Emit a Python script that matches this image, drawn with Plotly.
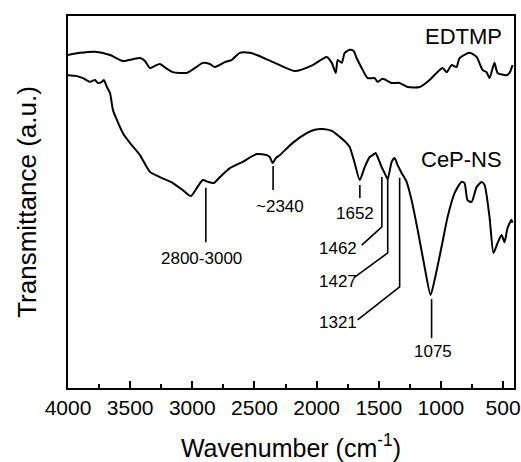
import plotly.graph_objects as go

# ---- data (wavenumber in cm^-1, transmittance in a.u.) ----
edtmp_wn = [4000, 3904, 3783, 3662, 3558, 3478, 3421, 3381, 3341, 3301, 3261, 3212, 3156, 3100,
            3044, 2979, 2915, 2859, 2819, 2738, 2682, 2618, 2537, 2481, 2336, 2176, 2031, 1919,
            1878, 1846, 1830, 1798, 1774, 1734, 1702, 1678, 1629, 1589, 1533, 1509, 1469, 1396,
            1332, 1268, 1171, 1091, 1035, 986, 954, 914, 874, 850, 769, 713, 665, 633, 609, 569,
            544, 472, 448, 424]
edtmp_t = [89.5, 90.1, 90.4, 89.5, 87.9, 88.4, 88.7, 87.9, 86.0, 86.6, 87.1, 86.0, 84.9, 84.7,
           84.7, 86.0, 87.4, 87.1, 86.3, 87.6, 88.2, 90.1, 90.1, 89.5, 87.4, 85.2, 86.8, 89.0,
           87.4, 84.7, 88.2, 87.4, 90.1, 90.9, 90.6, 88.7, 85.5, 83.3, 83.3, 82.3, 83.1, 82.0,
           82.0, 80.9, 80.9, 82.8, 84.7, 86.0, 84.9, 86.8, 86.3, 88.7, 90.1, 89.0, 85.5, 84.9,
           83.3, 87.4, 84.7, 84.1, 84.7, 86.8]

cep_wn = [4000, 3936, 3879, 3823, 3783, 3759, 3727, 3711, 3687, 3662, 3638, 3606, 3558, 3502,
          3421, 3341, 3261, 3156, 3076, 3012, 2963, 2915, 2875, 2827, 2778, 2698, 2594, 2481,
          2401, 2377, 2353, 2328, 2296, 2192, 2079, 2015, 1951, 1878, 1814, 1766, 1734, 1694,
          1653, 1613, 1573, 1549, 1525, 1509, 1477, 1453, 1428, 1396, 1372, 1348, 1316, 1276,
          1236, 1187, 1131, 1083, 1051, 995, 946, 890, 834, 810, 786, 753, 713, 673, 649, 609,
          577, 544, 512, 488, 464, 432, 424]
cep_t = [84.1, 83.9, 83.3, 82.3, 82.8, 82.0, 82.3, 82.8, 80.9, 79.3, 74.7, 72.0, 68.5, 65.9,
         62.6, 58.1, 56.7, 55.1, 53.2, 51.6, 53.8, 55.9, 55.4, 55.1, 56.7, 59.1, 60.8, 62.9,
         62.6, 62.1, 60.5, 61.8, 62.6, 65.9, 68.5, 69.4, 69.6, 69.1, 67.5, 66.1, 64.8, 60.5,
         55.9, 59.4, 62.1, 62.6, 63.2, 62.1, 59.4, 57.8, 56.2, 60.8, 61.8, 59.9, 57.8, 55.4,
         50.5, 42.5, 32.5, 25.0, 29.0, 37.9, 46.0, 52.4, 55.4, 55.1, 50.5, 50.0, 54.0, 55.4,
         54.6, 46.0, 36.3, 39.0, 41.1, 39.2, 43.0, 45.2, 44.4]

tick_vals = [4000, 3500, 3000, 2500, 2000, 1500, 1000, 500]
tick_text = ["4000", "3500", "3000", "2500", "2000", "1500", "1000", "500"]

# peak markers: label, label position, and leader polyline (wavenumber, transmittance)
peak_labels = ["2800-3000", "~2340", "1652", "1462", "1427", "1321", "1075"]
peak_label_x = [2923, 2296, 1694, 1830, 1830, 1830, 1067]
peak_label_y = [34.7, 48.7, 47.0, 37.6, 28.5, 17.7, 9.7]
peak_line_x = [[2891, 2891], [2350, 2350], [1652, 1652], [1475, 1475, 1637],
               [1428, 1428, 1694], [1332, 1332, 1670], [1075, 1075]]
peak_line_y = [[53.8, 39.2], [59.7, 53.2], [54.6, 51.1], [56.7, 43.3, 38.4],
               [56.5, 36.3, 29.8], [56.5, 27.2, 18.3], [23.9, 13.4]]

series_names = ["EDTMP", "CeP-NS"]
series_label_x = [818, 834]
series_label_y = [94.4, 61.3]

FONT = "Liberation Sans, Arial, Helvetica, sans-serif"

fig = go.Figure()
fig.add_trace(go.Scatter(x=edtmp_wn, y=edtmp_t, mode="lines", name="EDTMP",
                         line=dict(color="black", width=2, shape="spline", smoothing=0.6)))
fig.add_trace(go.Scatter(x=cep_wn, y=cep_t, mode="lines", name="CeP-NS",
                         line=dict(color="black", width=2, shape="spline", smoothing=0.6)))

for lx, ly in zip(peak_line_x, peak_line_y):
    fig.add_trace(go.Scatter(x=lx, y=ly, mode="lines", showlegend=False, hoverinfo="skip",
                             line=dict(color="black", width=1.6)))

for txt, x, y in zip(peak_labels, peak_label_x, peak_label_y):
    fig.add_annotation(x=x, y=y, text=txt, showarrow=False, xref="x", yref="y",
                       font=dict(size=17, color="black", family=FONT))

for txt, x, y in zip(series_names, series_label_x, series_label_y):
    fig.add_annotation(x=x, y=y, text=txt, showarrow=False, xref="x", yref="y",
                       font=dict(size=22, color="black", family=FONT))

fig.update_layout(
    width=521, height=462,
    margin=dict(l=68, r=7, t=16, b=74),
    paper_bgcolor="white", plot_bgcolor="white",
    showlegend=False,
    font=dict(family=FONT, color="black"),
    xaxis=dict(
        range=[4000, 412], showgrid=False, zeroline=False,
        showline=True, linecolor="black", linewidth=1.8, mirror=True,
        ticks="inside", ticklen=7, tickwidth=1.5, tickcolor="black",
        tickvals=tick_vals, ticktext=tick_text,
        tickfont=dict(size=21, color="black", family=FONT),
        minor=dict(dtick=250, tick0=0, ticks="inside", ticklen=4, tickwidth=1.5, tickcolor="black"),
        title=dict(text="Wavenumber (cm<sup>-1</sup>)", font=dict(size=25, color="black", family=FONT),
                   standoff=26),
        automargin=False,
    ),
    yaxis=dict(
        range=[0, 100], showgrid=False, zeroline=False,
        showline=True, linecolor="black", linewidth=1.8, mirror=True,
        ticks="", showticklabels=False,
        title=dict(text="Transmittance (a.u.)", font=dict(size=26, color="black", family=FONT),
                   standoff=22),
        automargin=False,
    ),
)

fig.write_html("out.html",
               config={"displayModeBar": False},
               post_script="document.body.style.margin='0';document.body.style.padding='0';"
                           "document.documentElement.style.overflow='hidden';")
